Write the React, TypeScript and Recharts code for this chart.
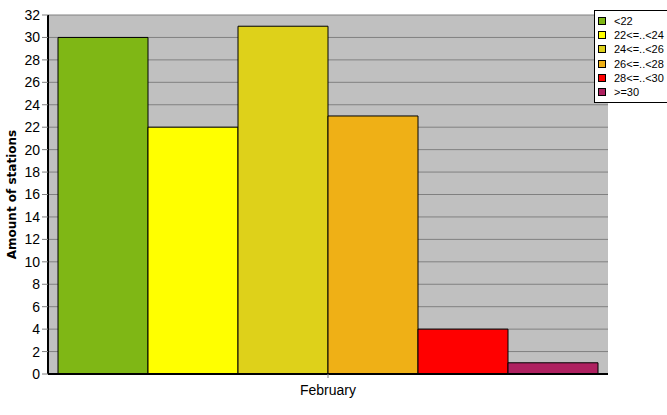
import { BarChart, Bar, XAxis, YAxis, CartesianGrid } from "recharts";

const month = "February";
const classes = ["<22", "22<=..<24", "24<=..<26", "26<=..<28", "28<=..<30", ">=30"];
const stations = [30, 22, 31, 23, 4, 1];
const colors = ["#7FB715", "#FFFF00", "#DED11A", "#EFB016", "#FF0000", "#AE2160"];
const yTicks = [0, 2, 4, 6, 8, 10, 12, 14, 16, 18, 20, 22, 24, 26, 28, 30, 32];

const row: Record<string, string | number> = { name: month };
classes.forEach((c, i) => {
  row["s" + i] = stations[i];
});
const data = [row];

const font = "'Liberation Sans', Arial, sans-serif";

function LegendBox() {
  return (
    <div
      style={{
        position: "absolute",
        left: 594,
        top: 10,
        width: 80,
        border: "1px solid #000",
        background: "#fff",
        padding: "3px 0 3px 3px",
        fontFamily: font,
        fontSize: 11,
        color: "#000",
      }}
    >
      {classes.map((c, i) => (
        <div key={c} style={{ display: "flex", alignItems: "center", height: 14.2 }}>
          <span
            style={{
              display: "inline-block",
              width: 6,
              height: 6,
              background: colors[i],
              border: "1px solid #000",
              marginRight: 8,
            }}
          />
          {c}
        </div>
      ))}
    </div>
  );
}

export default function App() {
  return (
    <div style={{ position: "absolute", left: 0, top: 0, width: 667, height: 415, background: "#fff" }}>
      <BarChart
        width={667}
        height={415}
        data={data}
        margin={{ top: 15, right: 59, bottom: 0, left: 0 }}
        barGap={0}
        barCategoryGap={10}
      >
        <CartesianGrid
          vertical={false}
          stroke="#808080"
          fill="#C0C0C0"
          fillOpacity={1}
        />
        <XAxis
          dataKey="name"
          height={41}
          axisLine={{ stroke: "#000", strokeWidth: 2 }}
          tickLine={{ stroke: "#808080" }}
          tickSize={4}
          tick={{ fill: "#000", fontSize: 14, fontFamily: font, dy: 5 }}
        />
        <XAxis
          xAxisId="top"
          orientation="top"
          dataKey="name"
          height={0}
          tick={false}
          tickLine={false}
          axisLine={{ stroke: "#000" }}
        />
        <YAxis
          width={48}
          domain={[0, 32]}
          ticks={yTicks}
          interval={0}
          axisLine={{ stroke: "#000", strokeWidth: 2 }}
          tickLine={{ stroke: "#808080" }}
          tickSize={6}
          tick={{ fill: "#000", fontSize: 14, fontFamily: font }}
          label={{
            value: "Amount of stations",
            angle: -90,
            position: "insideLeft",
            offset: 12,
            style: { textAnchor: "middle", fontWeight: "bold", fontSize: 12, fontFamily: "'DejaVu Sans', sans-serif", fill: "#000" },
          }}
        />
        <YAxis
          yAxisId="right"
          orientation="right"
          width={0}
          tick={false}
          tickLine={false}
          axisLine={{ stroke: "#000" }}
        />
        {classes.map((c, i) => (
          <Bar
            key={c}
            dataKey={"s" + i}
            name={c}
            fill={colors[i]}
            stroke="#000"
            strokeWidth={1}
            isAnimationActive={false}
          />
        ))}
      </BarChart>
      <LegendBox />
    </div>
  );
}
